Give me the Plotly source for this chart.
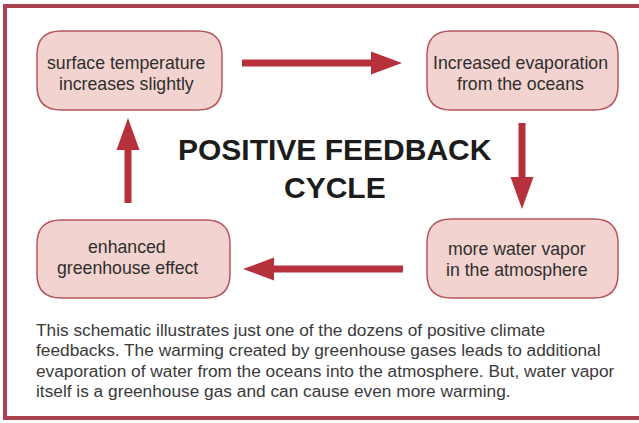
import plotly.graph_objects as go

# ---- content ----
node_labels = [
    ["surface temperature", "increases slightly"],
    ["Increased evaporation", "from the oceans"],
    ["more water vapor", "in the atmosphere"],
    ["enhanced", "greenhouse effect"],
]
title_lines = ["POSITIVE FEEDBACK", "CYCLE"]
caption_lines = [
    "This schematic illustrates just one of the dozens of positive climate",
    "feedbacks. The warming created by greenhouse gases leads to additional",
    "evaporation of water from the oceans into the atmosphere. But, water vapor",
    "itself is a greenhouse gas and can cause even more warming.",
]

# ---- layout (pixel geometry) ----
W, H = 639, 423
boxes = [  # x0, y0, x1, y1, text centre x, text centre y
    (37, 31, 222, 110, 126, 73),
    (427, 31, 618, 110, 520, 73),
    (427, 219, 618, 298, 517, 259),
    (37, 220, 230, 298, 127, 257),
]
BOX_FILL = "#f3d3cf"
BOX_LINE = "#b3555d"
ARROW = "#b7313d"
BORDER = "#a8434c"
FONT = "Liberation Sans, Arial, sans-serif"


def rrect(x0, y0, x1, y1, r):
    return (f"M {x0+r},{y0} L {x1-r},{y0} Q {x1},{y0} {x1},{y0+r} "
            f"L {x1},{y1-r} Q {x1},{y1} {x1-r},{y1} L {x0+r},{y1} "
            f"Q {x0},{y1} {x0},{y1-r} L {x0},{y0+r} Q {x0},{y0} {x0+r},{y0} Z")


def arrow_h(x_start, x_end, yc, head_len=31, head_half=11.5, shaft_half=3.5):
    d = 1 if x_end > x_start else -1
    xb = x_end - d * head_len
    return (f"M {x_start},{yc-shaft_half} L {xb},{yc-shaft_half} L {xb},{yc-head_half} "
            f"L {x_end},{yc} L {xb},{yc+head_half} L {xb},{yc+shaft_half} "
            f"L {x_start},{yc+shaft_half} Z")


def arrow_v(y_start, y_end, xc, head_len=32, head_half=11.5, shaft_half=3.5):
    d = 1 if y_end > y_start else -1
    yb = y_end - d * head_len
    return (f"M {xc-shaft_half},{y_start} L {xc-shaft_half},{yb} L {xc-head_half},{yb} "
            f"L {xc},{y_end} L {xc+head_half},{yb} L {xc+shaft_half},{yb} "
            f"L {xc+shaft_half},{y_start} Z")


fig = go.Figure()
shapes = []
# outer frame: three sides only (the right edge is cut off in the original)
shapes.append(dict(type="path", path=f"M {W+20},6 L 5,6 L 5,418 L {W+20},418",
                   line=dict(color=BORDER, width=4), fillcolor="rgba(0,0,0,0)"))
for (x0, y0, x1, y1, _, _) in boxes:
    shapes.append(dict(type="path", path=rrect(x0, y0, x1, y1, 24),
                       fillcolor=BOX_FILL, line=dict(color=BOX_LINE, width=1.5)))

arrows = [
    arrow_h(242, 402, 63),
    arrow_v(123, 209, 522),
    arrow_h(403, 243, 269),
    arrow_v(203, 118, 128),
]
for p in arrows:
    shapes.append(dict(type="path", path=p, fillcolor=ARROW, line=dict(width=0)))

annotations = []
for lines, b in zip(node_labels, boxes):
    cx, cy = b[4], b[5]
    n = len(lines)
    for i, t in enumerate(lines):
        yy = cy + (i - (n - 1) / 2) * 21
        annotations.append(dict(x=cx, y=yy, text=t, showarrow=False,
                                xanchor="center", yanchor="middle",
                                font=dict(family=FONT, size=17.7, color="#2e2e2e")))

for i, t in enumerate(title_lines):
    annotations.append(dict(x=335, y=149 + i * 38, text=f"<b>{t}</b>", showarrow=False,
                            xanchor="center", yanchor="middle",
                            font=dict(family=FONT, size=30, color="#1c1c1c")))

for i, t in enumerate(caption_lines):
    annotations.append(dict(x=34, y=330 + i * 20.3, text=t, showarrow=False,
                            xanchor="left", yanchor="middle",
                            font=dict(family=FONT, size=17.3, color="#3a3a3a")))

fig.update_layout(
    width=W, height=H,
    margin=dict(l=0, r=0, t=0, b=0),
    paper_bgcolor="white", plot_bgcolor="white",
    xaxis=dict(range=[0, W], visible=False, fixedrange=True),
    yaxis=dict(range=[H, 0], visible=False, fixedrange=True),
    shapes=shapes, annotations=annotations,
    showlegend=False,
)
fig.write_html("out.html", config={"displayModeBar": False},
               post_script="document.body.style.margin='0';document.body.style.overflow='hidden';")
